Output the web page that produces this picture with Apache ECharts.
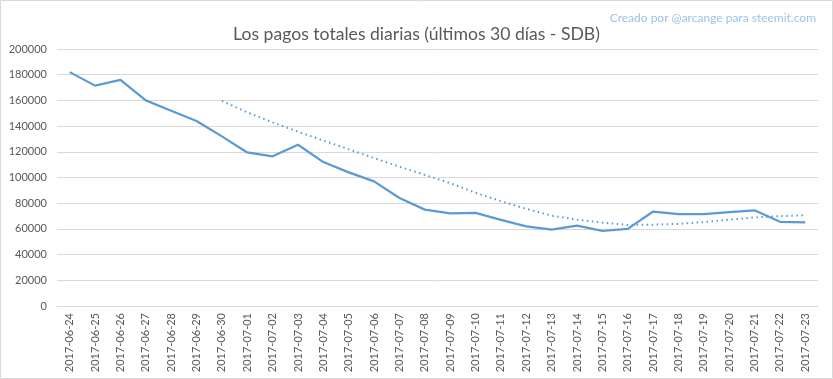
<!DOCTYPE html>
<html>
<head>
<meta charset="utf-8">
<script src="https://cdn.jsdelivr.net/npm/echarts@6/dist/echarts.min.js"></script>
<style>
html,body{margin:0;padding:0;background:#fff;}
#c{width:833px;height:379px;}
</style>
</head>
<body>
<div id="c"></div>
<script>
const categories = ['2017-06-24','2017-06-25','2017-06-26','2017-06-27','2017-06-28','2017-06-29','2017-06-30',
'2017-07-01','2017-07-02','2017-07-03','2017-07-04','2017-07-05','2017-07-06','2017-07-07','2017-07-08',
'2017-07-09','2017-07-10','2017-07-11','2017-07-12','2017-07-13','2017-07-14','2017-07-15','2017-07-16',
'2017-07-17','2017-07-18','2017-07-19','2017-07-20','2017-07-21','2017-07-22','2017-07-23'];

const payouts = [182000,171500,176000,160000,152000,144000,132000,
119500,116500,125500,112000,104000,97000,84000,75000,
72000,72500,67000,62000,59500,62500,58500,60000,
73500,71500,71500,73000,74500,65500,65000];

const trend = [null,null,null,null,null,null,159600,
150700,142900,135600,128800,121900,115200,108400,102000,
95600,88100,81600,75600,70300,67200,64900,63100,
63300,63900,65300,67200,68900,69900,70600];

const titleText = 'Los pagos totales diarias (últimos 30 días - SDB)';
const creditText = 'Creado por @arcange para steemit.com';

const chart = echarts.init(document.getElementById('c'), null, {renderer:'canvas'});
const FONT = 'Lato, "Open Sans", sans-serif';
chart.setOption({
  animation:false,
  backgroundColor:'#ffffff',
  title:[{
    text:titleText, left:'center', top:20,
    textStyle:{color:'#595959', fontSize:17.6, fontWeight:'normal', fontFamily:FONT}
  },{
    text:creditText, right:12, top:7,
    textStyle:{color:'#9DC3E6', fontSize:12, fontWeight:'normal', fontFamily:FONT}
  }],
  graphic:[{type:'rect', shape:{x:0.5,y:0.5,width:832,height:378}, style:{fill:null, stroke:'#D9D9D9', lineWidth:1}, silent:true}],
  grid:{left:57, right:15, top:49, bottom:73, containLabel:false},
  xAxis:{
    type:'category', data:categories, boundaryGap:true,
    axisLine:{show:true, lineStyle:{color:'#D9D9D9'}},
    axisTick:{show:false},
    axisLabel:{rotate:90, interval:0, color:'#595959', fontSize:11, fontFamily:FONT, margin:7}
  },
  yAxis:{
    type:'value', min:0, max:200000, interval:20000,
    axisLine:{show:false}, axisTick:{show:false},
    splitLine:{lineStyle:{color:'#D9D9D9', width:1}},
    axisLabel:{color:'#595959', fontSize:11, fontFamily:FONT, margin:10, formatter:function(v){return String(v);}}
  },
  series:[{
    type:'line', data:payouts, symbol:'none',
    lineStyle:{color:'#5B9BD5', width:2.25}, z:3
  },{
    type:'line', data:trend, symbol:'none', connectNulls:false,
    lineStyle:{color:'#5B9BD5', width:2, type:[1.5,3.5]}, z:2
  }]
});
</script>
</body>
</html>
